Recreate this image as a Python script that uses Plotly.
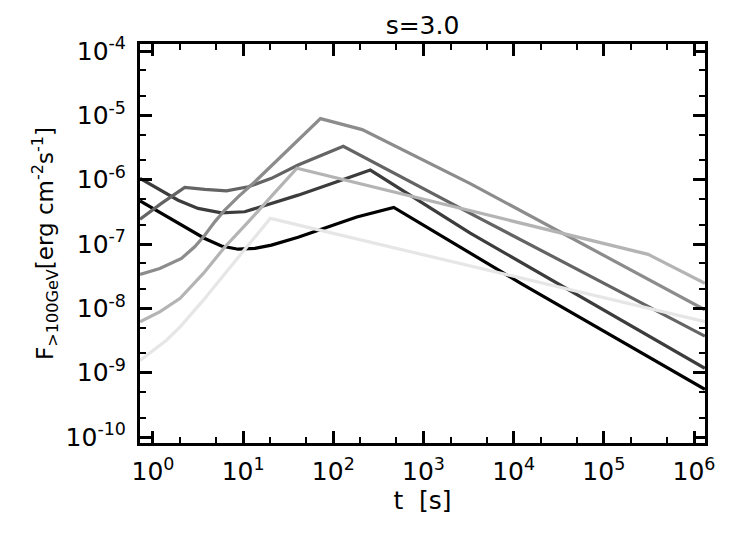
import plotly.graph_objects as go

# time [s] and flux F(>100 GeV) [erg cm^-2 s^-1]
t_1 = [0.718, 1.045, 1.6, 2.45, 3.75, 5.74, 8.8, 13.5, 20.6, 40.7, 77.6, 182, 468,
       3300, 12000, 1.32e6]
f_1 = [4.68e-7, 3.45e-7, 2.5e-7, 1.75e-7, 1.22e-7, 9.3e-8, 8.3e-8, 8.55e-8, 9.6e-8,
       1.27e-7, 1.74e-7, 2.63e-7, 3.7e-7, 7.1e-8, 2.45e-8, 5.5e-10]

t_2 = [0.718, 1.14, 1.9, 3.16, 5.74, 10.4, 20.6, 40.7, 100, 257, 3300, 1.32e6]
f_2 = [1.05e-6, 7.3e-7, 4.8e-7, 3.58e-7, 3.05e-7, 3.17e-7, 4.28e-7, 5.75e-7, 8.9e-7,
       1.41e-6, 1.48e-7, 1.17e-9]

t_3 = [0.718, 1.24, 2.25, 3.75, 6.53, 11.4, 20.6, 40.7, 129, 3300, 1.32e6]
f_3 = [2.42e-7, 4.28e-7, 7.6e-7, 7.06e-7, 6.71e-7, 7.76e-7, 1.05e-6, 1.69e-6,
       3.3e-6, 3.0e-7, 3.7e-9]

t_4 = [0.718, 1.19, 2.07, 2.9, 3.75, 4.84, 6.25, 8.8, 13.5, 26.7, 72, 209, 3300,
       1.32e6]
f_4 = [3.37e-8, 4.17e-8, 5.97e-8, 9.06e-8, 1.37e-7, 2.21e-7, 3.37e-7, 5.42e-7,
       9.3e-7, 2.3e-6, 8.9e-6, 6.0e-6, 8.7e-7, 9.5e-9]

t_5 = [0.718, 1.2, 2.0, 3.62, 6.3, 11.0, 23.7, 39.5, 3.1e5, 1.32e6]
f_5 = [6.2e-9, 8.9e-9, 1.43e-8, 3.49e-8, 9.06e-8, 2.09e-7, 6.89e-7, 1.51e-6,
       6.9e-8, 2.45e-8]

t_6 = [0.718, 1.0, 1.41, 2.0, 3.62, 6.3, 11.0, 20, 1.32e6]
f_6 = [1.55e-9, 2.2e-9, 3.2e-9, 5.15e-9, 1.34e-8, 3.49e-8, 9.06e-8, 2.5e-7, 6.2e-9]

SERIES = [
    (t_1, f_1, "#000000"),
    (t_2, f_2, "#3c3c3c"),
    (t_3, f_3, "#646464"),
    (t_4, f_4, "#8c8c8c"),
    (t_5, f_5, "#b4b4b4"),
    (t_6, f_6, "#e6e6e6"),
]

# decade labels
x_decades = [0, 1, 2, 3, 4, 5, 6]
y_decades = [-10, -9, -8, -7, -6, -5, -4]

FONT = "DejaVu Sans, sans-serif"
FSIZE = 25

fig = go.Figure()
for t, f, col in SERIES:
    fig.add_trace(go.Scatter(x=t, y=f, mode="lines",
                             line=dict(color=col, width=3.2),
                             showlegend=False, hoverinfo="skip"))

axis_common = dict(
    type="log",
    showline=True, linewidth=3, linecolor="black",
    mirror="allticks",
    ticks="inside", ticklen=12, tickwidth=2.5, tickcolor="black",
    minor=dict(ticks="inside", ticklen=6, tickwidth=2, tickcolor="black",
               showgrid=False),
    showgrid=False, zeroline=False,
    tickfont=dict(family=FONT, size=FSIZE, color="black"),
)

fig.update_xaxes(
    **axis_common,
    range=[-0.144, 6.122],
    tickmode="array",
    tickvals=[10.0 ** d for d in x_decades],
    ticktext=[f"10<sup>{d}</sup>" for d in x_decades],
    ticklabelstandoff=4,
    title=dict(text="t  [s]", font=dict(family=FONT, size=FSIZE, color="black"),
               standoff=4),
)
fig.update_yaxes(
    **axis_common,
    range=[-10.093, -3.891],
    tickmode="array",
    tickvals=[10.0 ** d for d in y_decades],
    ticktext=[f"10<sup>{d}</sup>" for d in y_decades],
    ticklabelstandoff=6,
    title=dict(text="F<sub>&gt;100GeV</sub>[erg cm<sup>-2</sup>s<sup>-1</sup>]",
               font=dict(family=FONT, size=23, color="black"),
               standoff=6),
)

# the page body adds 8 px on the left and top
fig.update_layout(
    width=739, height=525,
    margin=dict(l=132, r=42, t=36, b=90),
    paper_bgcolor="white", plot_bgcolor="white",
    title=dict(text="s=3.0", x=0.5, xref="paper", xanchor="center",
               y=1 - 17 / 525, yref="container", yanchor="middle",
               font=dict(family=FONT, size=FSIZE, color="black")),
)

fig.write_html("out.html")
